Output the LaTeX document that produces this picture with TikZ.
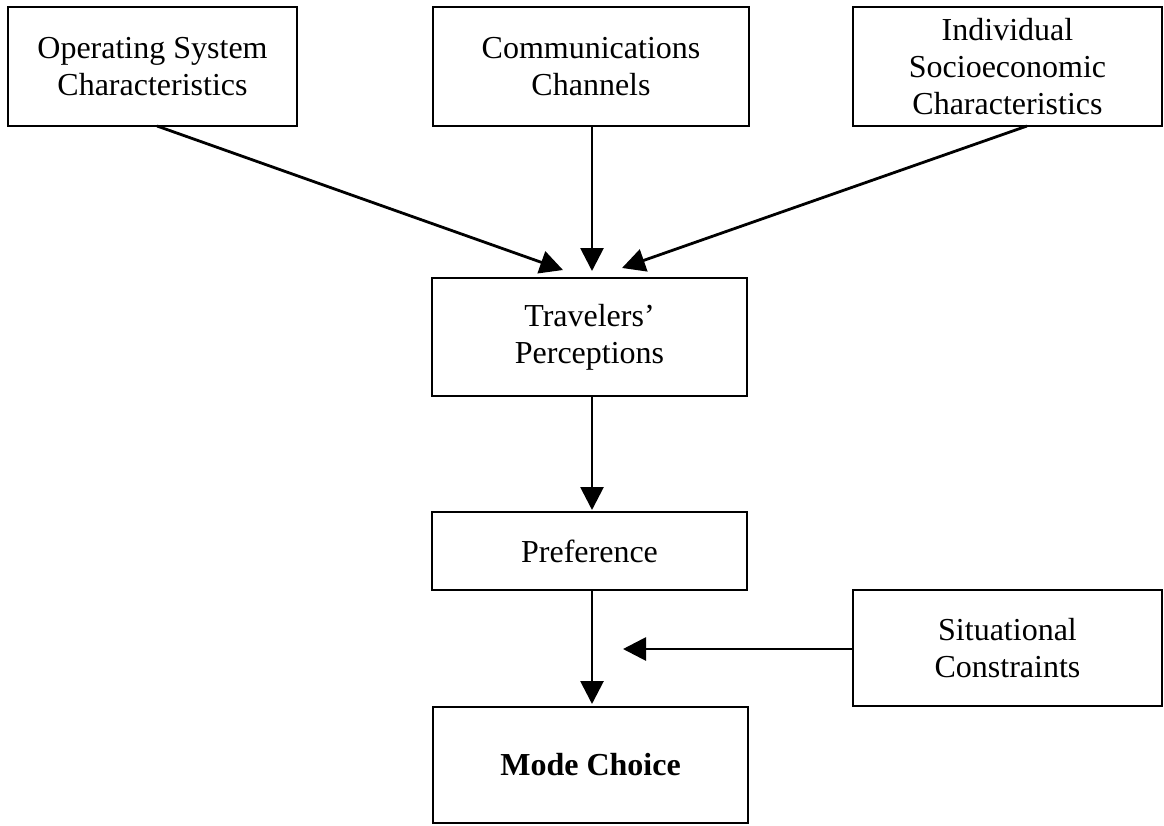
\documentclass[tikz,border=0pt]{standalone}
\usepackage{fontspec}
\setmainfont{Liberation Serif}
\usetikzlibrary{arrows.meta}

\begin{document}
\begin{tikzpicture}[x=1pt,y=-1pt,
  box/.style={draw=black, line width=1.8pt, rectangle, align=center,
    inner sep=0pt, font=\fontsize{32}{37}\selectfont},
  flow/.style={draw=black, line width=2.8pt,
    -{Triangle[length=23pt,width=23pt]}}
]
\useasboundingbox (0,0) rectangle (1164,825);

% factor boxes along the top
\node[box, minimum width=289pt, minimum height=119pt] (osc) at (152.5,66.5)
  {Operating System\\Characteristics};
\node[box, minimum width=316pt, minimum height=119pt] (comm) at (591,66.5)
  {Communications\\Channels};
\node[box, minimum width=309pt, minimum height=119pt] (isc) at (1007.5,66.5)
  {Individual\\Socioeconomic\\Characteristics};

% central chain
\node[box, minimum width=315pt, minimum height=118pt] (perc) at (589.5,337)
  {Travelers’\\Perceptions};
\node[box, minimum width=315pt, minimum height=78pt] (pref) at (589.5,551)
  {Preference};
\node[box, minimum width=315pt, minimum height=116pt] (mode) at (590.5,765)
  {\bfseries Mode Choice};

% side constraint box
\node[box, minimum width=309pt, minimum height=116pt] (situ) at (1007.5,648)
  {Situational\\Constraints};

% arrow tip positions
\coordinate (tipL) at (563,270);
\coordinate (tipC) at (592,271);
\coordinate (tipR) at (622,268);
\coordinate (tipP) at (592,510);
\coordinate (tipM) at (592,704);
\coordinate (tipS) at (623,649);
\coordinate (osc-out) at (157,126);
\coordinate (isc-out) at (1027,126);

\draw[flow] (osc-out) -- (tipL);
\draw[flow] (comm.south -| tipC) -- (tipC);
\draw[flow] (isc-out) -- (tipR);
\draw[flow] (perc.south -| tipP) -- (tipP);
\draw[flow] (pref.south -| tipM) -- (tipM);
\draw[flow] (situ.west |- tipS) -- (tipS);
\end{tikzpicture}
\end{document}
